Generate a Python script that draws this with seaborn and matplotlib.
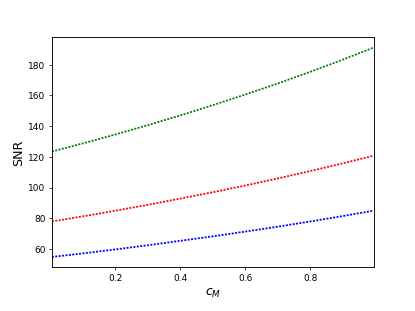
import numpy as np
import pandas as pd
import seaborn as sns
import matplotlib
matplotlib.use("Agg")
import matplotlib.pyplot as plt

# values
c_m = [0.005, 0.1, 0.2, 0.3, 0.4, 0.5, 0.6, 0.7, 0.8, 0.9, 0.995]
snr_green = [123.5, 128.8, 134.6, 140.7, 147.0, 153.7, 160.6, 167.8, 175.4, 183.3, 191.2]
snr_red = [78.0, 81.3, 85.0, 88.8, 92.9, 97.0, 101.4, 106.0, 110.8, 115.8, 120.8]
snr_blue = [54.9, 57.2, 59.8, 62.5, 65.4, 68.3, 71.4, 74.6, 78.0, 81.5, 85.0]

df = pd.DataFrame({
    "c_M": c_m * 3,
    "SNR": snr_green + snr_red + snr_blue,
    "series": ["g"] * len(c_m) + ["r"] * len(c_m) + ["b"] * len(c_m),
})

fig, ax = plt.subplots(figsize=(6.4, 4.8), dpi=415 / 6.4)
fig.subplots_adjust(bottom=0.14)

for col in ["g", "r", "b"]:
    sub = df[df["series"] == col]
    sns.lineplot(data=sub, x="c_M", y="SNR", color=col,
                 linestyle=(0, (1.1, 0.8)), linewidth=2.0, ax=ax)

ax.set_xlim(c_m[0], c_m[-1])
ax.set_xlabel(r"$c_M$", fontsize=14)
ax.set_ylabel("SNR", fontsize=14)
for sp in ax.spines.values():
    sp.set_linewidth(1.0)

fig.savefig("out.png", dpi=415 / 6.4)
